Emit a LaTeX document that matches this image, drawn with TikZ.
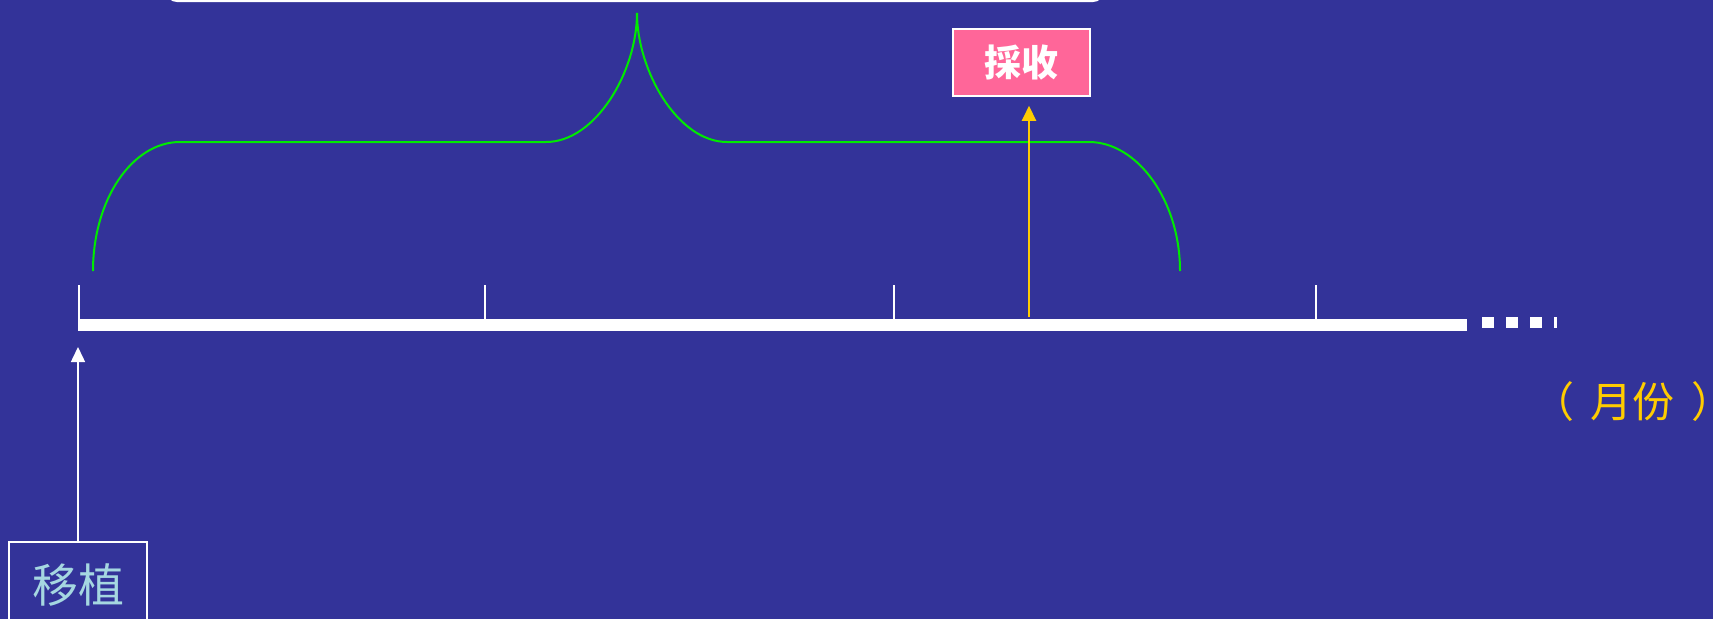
\documentclass[tikz,border=0pt]{standalone}
\usepackage{fontspec}
\newfontfamily\cjk{Noto Sans CJK SC}
\usetikzlibrary{arrows.meta}
\definecolor{bg}{HTML}{333399}
\definecolor{pinkbox}{HTML}{FF6699}
\definecolor{yel}{HTML}{FFCC00}
\definecolor{brgreen}{RGB}{0,235,0}
\definecolor{lblue}{RGB}{165,215,225}
\tikzset{
  tick/.style={white, line width=2.5pt},
  tip/.style={-{Triangle[width=14pt,length=15pt]}},
}
\begin{document}
\begin{tikzpicture}[x=1pt,y=-1pt]
\useasboundingbox (0,0) rectangle (1713,619);
\clip (0,0) rectangle (1713,619);
\fill[bg] (0,0) rectangle (1713,619);
% top box (only bottom edge visible)
\draw[white, line width=2pt, rounded corners=10pt] (167,-40) rectangle (1103,1);
% brace
\draw[brgreen, line width=2pt] (93,271) .. controls (93,200) and (132,142) .. (180,142) -- (546,142)
  .. controls (596,142) and (637,71) .. (637,13)
  .. controls (637,71) and (678,142) .. (727,142) -- (1089,142)
  .. controls (1137,142) and (1180,200) .. (1180,271);
% axis
\fill[white] (78,319) rectangle (1467,331);
\foreach \x in {1482,1506,1530} \fill[white] (\x,317) rectangle ++(12,11);
\fill[white] (1554,317) rectangle (1557,328);
\foreach \x in {79,485,894,1316} \draw[tick] (\x,285) -- (\x,319);
% boxes
\node (cs) [draw=white, line width=1.5pt, fill=pinkbox, text=white, minimum width=137pt, minimum height=67pt, inner sep=0pt,
  font=\cjk\bfseries\fontsize{37}{40}\selectfont] at (1021.5,62.5) {採收};
\node (yz) [draw=white, line width=1.5pt, text=lblue, minimum width=138pt, minimum height=86pt, inner sep=0pt,
  font=\cjk\fontsize{46}{50}\selectfont] at (78,585) {移植};
\node (yf) [text=yel, inner sep=0pt, font=\cjk\fontsize{42}{46}\selectfont] at (1622.5,402) {（\kern0.4em 月份\kern0.4em）\kern-0.5em};
% arrows
\coordinate (wtip) at (78,347);
\draw[white, line width=1.5pt, tip] (yz.north) -- (wtip);
\coordinate (ystart) at (1029,317);
\draw[yel, line width=2pt, tip, shorten >=9pt] (ystart) -- (ystart |- cs.south);
\end{tikzpicture}
\end{document}
